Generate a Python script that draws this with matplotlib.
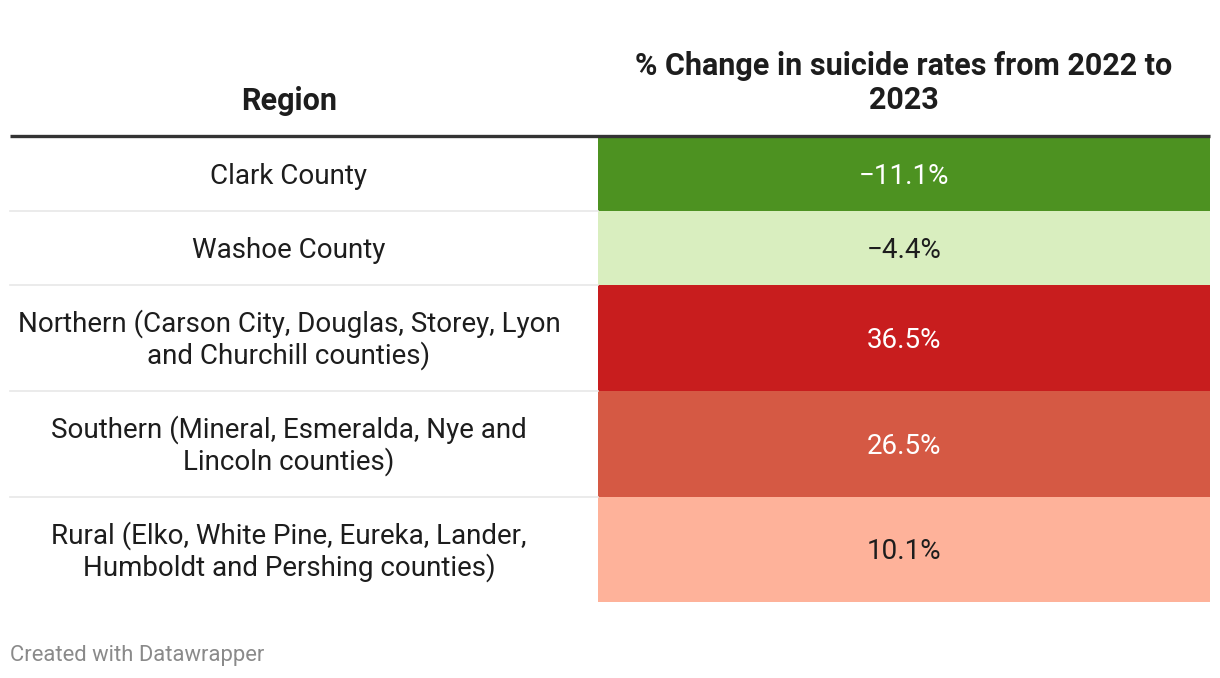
import matplotlib.pyplot as plt
from matplotlib.patches import Rectangle

regions = [
    "Clark County",
    "Washoe County",
    "Northern (Carson City, Douglas, Storey, Lyon\nand Churchill counties)",
    "Southern (Mineral, Esmeralda, Nye and\nLincoln counties)",
    "Rural (Elko, White Pine, Eureka, Lander,\nHumboldt and Pershing counties)",
]
change = [-11.1, -4.4, 36.5, 26.5, 10.1]
header_left = "Region"
header_right = "% Change in suicide rates from 2022 to\n2023"

cell_colors = ["#4d9221", "#d9eebf", "#c81d1e", "#d55944", "#feb29a"]
text_colors = ["white", "#1d1d1d", "white", "white", "#1d1d1d"]

plt.rcParams["font.family"] = ["Roboto", "DejaVu Sans"]

W, H = 1220, 678
fig = plt.figure(figsize=(W / 100, H / 100), dpi=100)
ax = fig.add_axes([0, 0, 1, 1])
ax.set_xlim(0, W)
ax.set_ylim(H, 0)
ax.axis("off")

# row boundaries (pixel rows)
edges = [137, 211, 285, 391, 497, 602]
left, mid, right = 10, 598, 1210
cx_left = 289
cx_right = (mid + right) / 2

ax.text(cx_left, 101, header_left, ha="center", va="center",
        fontsize=22, fontweight="bold", color="#1d1d1d")
ax.text(cx_right, 83, header_right, ha="center", va="center",
        fontsize=22, fontweight="bold", color="#1d1d1d", linespacing=1.2)
ax.plot([left, right], [135.5, 135.5], color="#333333", lw=2.4,
        solid_capstyle="butt")

for i, (reg, val) in enumerate(zip(regions, change)):
    y0, y1 = edges[i], edges[i + 1]
    yc = (y0 + y1) / 2 + 2
    ax.add_patch(Rectangle((mid, y0), right - mid, y1 - y0,
                           facecolor=cell_colors[i], edgecolor="none"))
    if i < len(regions) - 1:
        ax.plot([left, mid], [y1, y1], color="#e8e8e8", lw=1.2)
    ax.text(cx_left, yc, reg, ha="center", va="center",
            fontsize=20, color="#1d1d1d", linespacing=1.15)
    label = f"{val:.1f}%".replace("-", "\u2212")
    ax.text(cx_right, yc, label, ha="center", va="center",
            fontsize=20, color=text_colors[i])

ax.text(left, 656, "Created with Datawrapper", ha="left", va="center",
        fontsize=15.8, color="#8a8a8a")

fig.savefig("out.png", dpi=100)
